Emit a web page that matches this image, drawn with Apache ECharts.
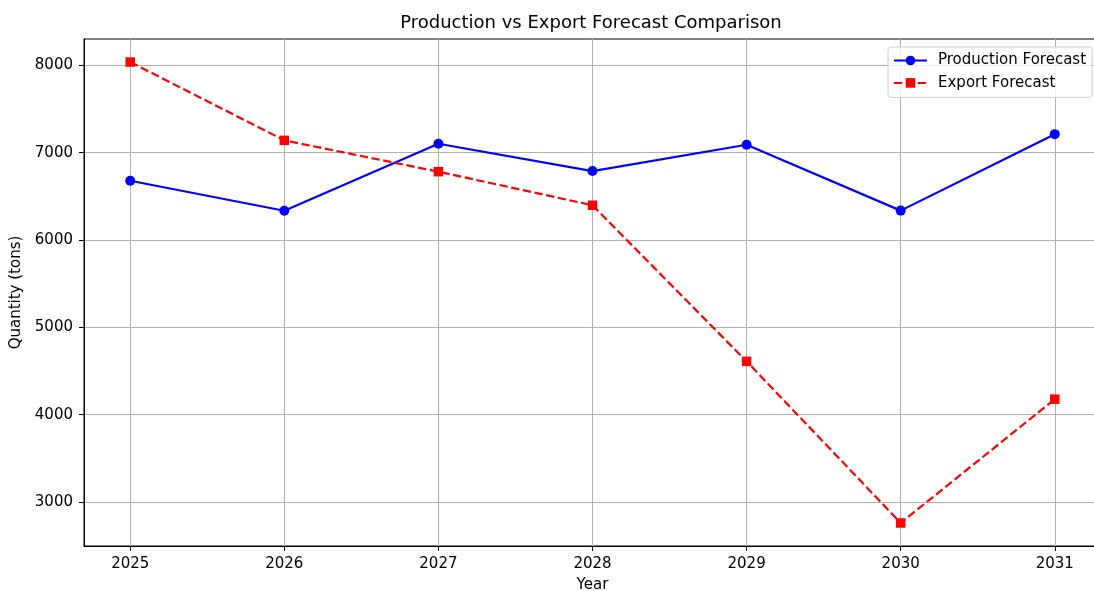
<!DOCTYPE html>
<html>
<head>
<meta charset="utf-8">
<script src="https://cdn.jsdelivr.net/npm/echarts@6/dist/echarts.min.js"></script>
<style>
  html, body { margin: 0; padding: 0; background: #ffffff; }
  #chart { width: 1094px; height: 591px; }
</style>
</head>
<body>
<div id="chart"></div>
<script>
// Forecast years and quantities (tons)
const years = [2025, 2026, 2027, 2028, 2029, 2030, 2031];
const production = [6679, 6335, 7103, 6790, 7092, 6337, 7213];
const exportsFc = [8039, 7142, 6783, 6398, 4610, 2759, 4177];
const yTicks = [3000, 4000, 5000, 6000, 7000, 8000];

const FONT = 'DejaVu Sans';

// Axis limits padded by 5% of the data span on each side
function padded(values, frac) {
  const lo = Math.min(...values), hi = Math.max(...values);
  const m = (hi - lo) * frac;
  return [lo - m, hi + m];
}
const [xMin, xMax] = padded(years, 0.05);
const [yMin, yMax] = padded(production.concat(exportsFc), 0.05);

const chart = echarts.init(document.getElementById('chart'), null, { renderer: 'canvas' });

const axisCommon = {
  axisLine: { show: true, lineStyle: { color: '#000', width: 1 } },
  axisTick: { show: true, inside: false, length: 5, lineStyle: { color: '#000', width: 1 } },
  splitLine: { show: true, lineStyle: { color: '#b0b0b0', width: 1 } },
  nameTextStyle: { fontFamily: FONT, fontSize: 15, color: '#000' }
};

chart.setOption({
  animation: false,
  backgroundColor: '#ffffff',
  title: {
    text: 'Production vs Export Forecast Comparison',
    left: 591,
    top: 14.5,
    padding: 0,
    textAlign: 'center',
    textStyle: { fontFamily: FONT, fontSize: 18, fontWeight: 'normal', color: '#000' }
  },
  grid: {
    left: 84, top: 39, width: 1017, height: 507,
    outerBoundsMode: 'none',
    show: true, borderColor: '#000', borderWidth: 1, backgroundColor: 'transparent',
    containLabel: false
  },
  legend: {
    orient: 'vertical',
    left: 888, top: 47,
    padding: [5, 6, 6, 5],
    itemGap: 5.4,
    itemWidth: 33,
    itemHeight: 12,
    backgroundColor: 'rgba(255,255,255,0.8)',
    borderColor: '#cccccc', borderWidth: 1, borderRadius: 3,
    textStyle: { fontFamily: FONT, fontSize: 15, color: '#000', lineHeight: 17, padding: [0, 0, 0, 6] },
    data: ['Production Forecast', 'Export Forecast']
  },
  xAxis: Object.assign({}, axisCommon, {
    type: 'value',
    min: xMin, max: xMax,
    name: 'Year', nameLocation: 'middle', nameGap: 32,
    axisTick: Object.assign({}, axisCommon.axisTick, { customValues: years }),
    axisLabel: { customValues: years, margin: 11, fontFamily: FONT, fontSize: 15, color: '#000',
                 formatter: v => String(v) }
  }),
  yAxis: Object.assign({}, axisCommon, {
    type: 'value',
    min: yMin, max: yMax,
    name: 'Quantity (tons)', nameLocation: 'middle', nameGap: 55, nameRotate: 90,
    axisTick: Object.assign({}, axisCommon.axisTick, { customValues: yTicks }),
    axisLabel: { customValues: yTicks, margin: 11, fontFamily: FONT, fontSize: 15, color: '#000',
                 padding: [3, 0, 0, 0], formatter: v => String(v) }
  }),
  series: [
    {
      name: 'Production Forecast',
      type: 'line',
      data: years.map((y, i) => [y, production[i]]),
      symbol: 'circle', symbolSize: 10,
      lineStyle: { color: '#0000ff', width: 2.2 },
      itemStyle: { color: '#0000ff' },
      z: 3
    },
    {
      name: 'Export Forecast',
      type: 'line',
      data: years.map((y, i) => [y, exportsFc[i]]),
      symbol: 'rect', symbolSize: 9.5,
      lineStyle: { color: '#ff0000', width: 2.2, type: [8.3, 3.6] },
      itemStyle: { color: '#ff0000' },
      z: 3
    }
  ]
});
</script>
</body>
</html>
